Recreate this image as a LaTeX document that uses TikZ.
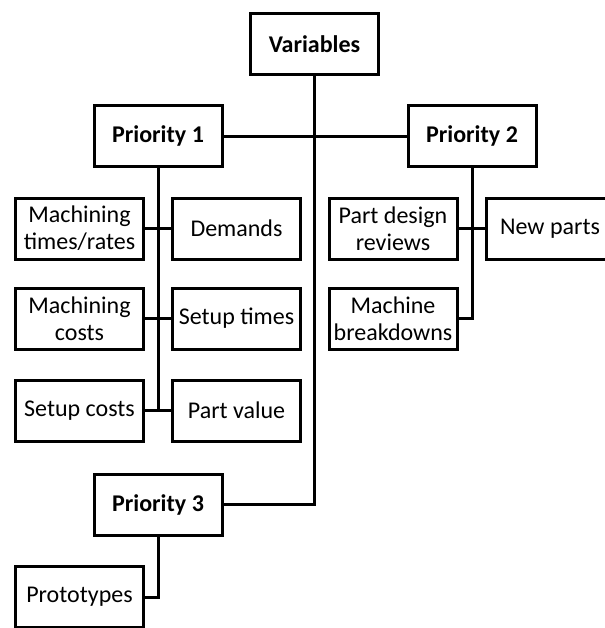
\documentclass[tikz,border=0pt]{standalone}
\usepackage{fontspec}
\setmainfont{Carlito}
\usepackage{tikz}
\usetikzlibrary{positioning}

\begin{document}
\begin{tikzpicture}[
  x=0.75pt, y=-0.75pt,
  box/.style={draw, line width=2.25pt, minimum width=96pt, minimum height=45.75pt,
              inner sep=2pt, align=center, font=\fontsize{18}{20}\selectfont},
  head/.style={box, font=\bfseries\fontsize{18}{20}\selectfont},
  link/.style={line width=2.25pt},
]
  \useasboundingbox (0,0) rectangle (605,628);
  \clip (0,0) rectangle (605,628);

  \node[head]                         (var)   at (314.5,44)  {Variables};
  \node[head]                         (p1)    at (158,136)   {Priority 1};
  \node[head]                         (p2)    at (472,136)   {Priority 2};
  \node[head]                         (p3)    at (158,504.5) {Priority 3};

  % priority 1
  \node[box]                          (mtr)   at (79.5,228.5) {Machining\\times/rates};
  \node[box, right=19.5pt of mtr]     (dem)   {Demands};
  \node[box, below=19.5pt of mtr]     (mc)    {Machining\\costs};
  \node[box, right=19.5pt of mc]      (st)    {Setup times};
  \node[box, below=21pt of mc]        (sc)    {Setup costs};
  \node[box, right=19.5pt of sc]      (pv)    {Part value};

  % priority 2
  \node[box]                          (pdr)   at (393,228.5) {Part design\\reviews};
  \node[box, right=19.5pt of pdr]     (np)    {New parts};
  \node[box, below=19.5pt of pdr]     (mb)    {Machine\\breakdowns};

  % priority 3
  \node[box]                          (proto) at (79.5,597)  {Prototypes};

  \draw[link] (var.south) |- (p3.east);
  \draw[link] (p1.east) -- (p2.west);

  \draw[link] (p1.south) -- (p1.south |- pv.west);
  \draw[link] (mtr.east) -- (dem.west);
  \draw[link] (mc.east) -- (st.west);
  \draw[link] (sc.east) -- (pv.west);

  \draw[link] (p2.south) |- (mb.east);
  \draw[link] (pdr.east) -- (np.west);

  \draw[link] (p3.south) |- (proto.east);
\end{tikzpicture}
\end{document}
